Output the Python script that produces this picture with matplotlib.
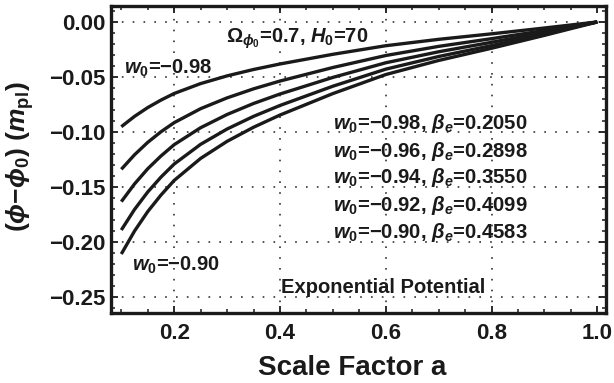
import matplotlib
matplotlib.use("Agg")
import matplotlib.pyplot as plt
from matplotlib.ticker import MultipleLocator, FixedLocator, FixedFormatter

plt.rcParams['font.family'] = ['Liberation Sans', 'DejaVu Sans']
plt.rcParams['font.weight'] = 'bold'
plt.rcParams['mathtext.fontset'] = 'custom'
plt.rcParams['mathtext.rm'] = 'Liberation Sans:bold'
plt.rcParams['mathtext.bf'] = 'Liberation Sans:bold'
plt.rcParams['mathtext.it'] = 'Liberation Sans:italic:bold'
plt.rcParams['mathtext.sf'] = 'Liberation Sans:bold'

# ---- data ----
scale_factor = [0.10, 0.125, 0.15, 0.175, 0.20, 0.25, 0.30, 0.35, 0.40,
                0.50, 0.60, 0.70, 0.80, 0.90, 1.00]
phi_w098 = [-0.0952, -0.0858, -0.0778, -0.0710, -0.0650, -0.0560, -0.0490, -0.0432,
            -0.0382, -0.0294, -0.0216, -0.0158, -0.0108, -0.0055, 0.0]
phi_w096 = [-0.1339, -0.1207, -0.1094, -0.0998, -0.0915, -0.0788, -0.0690, -0.0608,
            -0.0537, -0.0414, -0.0305, -0.0222, -0.0152, -0.0078, 0.0]
phi_w094 = [-0.1633, -0.1472, -0.1334, -0.1218, -0.1115, -0.0961, -0.0841, -0.0741,
            -0.0655, -0.0504, -0.0371, -0.0271, -0.0185, -0.0095, 0.0]
phi_w092 = [-0.1891, -0.1704, -0.1545, -0.1410, -0.1291, -0.1112, -0.0973, -0.0858,
            -0.0759, -0.0584, -0.0429, -0.0314, -0.0215, -0.0109, 0.0]
phi_w090 = [-0.2109, -0.1900, -0.1723, -0.1573, -0.1440, -0.1240, -0.1085, -0.0957,
            -0.0846, -0.0651, -0.0478, -0.0350, -0.0239, -0.0122, 0.0]
series = [phi_w098, phi_w096, phi_w094, phi_w092, phi_w090]

w0_values = ["\u22120.98", "\u22120.96", "\u22120.94", "\u22120.92", "\u22120.90"]
beta_values = ["0.2050", "0.2898", "0.3550", "0.4099", "0.4583"]

xticks = [0.2, 0.4, 0.6, 0.8, 1.0]
xtick_labels = ["0.2", "0.4", "0.6", "0.8", "1.0"]
yticks = [0.00, -0.05, -0.10, -0.15, -0.20, -0.25]
ytick_labels = ["0.00", "\u22120.05", "\u22120.10", "\u22120.15", "\u22120.20", "\u22120.25"]

# ---- figure ----
fig = plt.figure(figsize=(6.14, 3.83), dpi=100)
ax = fig.add_axes([111/614, 1-313/383, (606-111)/614, (313-6)/383])

for s in series:
    ax.plot(scale_factor, s, color='#1a1a1a', lw=2.4, solid_capstyle='butt')

ax.set_xlim(0.0805, 1.0165)
ax.set_ylim(-0.2645, 0.0145)

ax.xaxis.set_major_locator(FixedLocator(xticks))
ax.xaxis.set_major_formatter(FixedFormatter(xtick_labels))
ax.yaxis.set_major_locator(FixedLocator(yticks))
ax.yaxis.set_major_formatter(FixedFormatter(ytick_labels))
ax.xaxis.set_minor_locator(MultipleLocator(0.05))
ax.yaxis.set_minor_locator(MultipleLocator(0.01))

ax.tick_params(which='both', direction='in', top=True, right=True, color='#1a1a1a')
ax.tick_params(which='major', length=5, width=1.3, labelsize=16)
ax.tick_params(which='minor', length=2.8, width=1.1)
ax.tick_params(axis='x', which='major', pad=7)
ax.tick_params(axis='y', which='major', pad=4)
for lab in ax.get_xticklabels() + ax.get_yticklabels():
    lab.set_fontweight('bold')
    lab.set_color('#1a1a1a')

for sp in ax.spines.values():
    sp.set_linewidth(2.4)
    sp.set_color('#1a1a1a')

ax.grid(True, which='major', linestyle=(0, (1, 5.5)), color='#333333', lw=1.2)
ax.get_xgridlines()[-1].set_visible(False)

# ---- annotations ----
txt_kw = dict(color='#1a1a1a', fontweight='bold')
ax.text(0.433, -0.0155, r"$\Omega_{\phi_0}$=0.7, $H_0$=70", ha='center', va='center',
        fontsize=14.5, **txt_kw)
ax.text(0.189, -0.042, r"$w_0$=" + w0_values[0], ha='center', va='center',
        fontsize=14.5, **txt_kw)
ax.text(0.204, -0.221, r"$w_0$=" + w0_values[-1], ha='center', va='center',
        fontsize=14.5, **txt_kw)
block_y = [-0.0927, -0.1173, -0.1418, -0.1664, -0.1909]
for w, b, yy in zip(w0_values, beta_values, block_y):
    ax.text(0.684, yy, r"$w_0$=" + w + r", $\beta_e$=" + b, ha='center', va='center',
            fontsize=14.6, **txt_kw)
ax.text(0.5957, -0.241, "Exponential Potential", ha='center', va='center',
        fontsize=14.5, **txt_kw)

fig.text(352/614, 1-368/383, "Scale Factor a", ha='center', va='center',
         fontsize=20, **txt_kw)
fig.text(20/614, 1-157/383, r"$\mathrm{(}\phi\mathrm{-}\phi_0\mathrm{)\ (}m_{\mathrm{pl}}\mathrm{)}$",
         ha='center', va='center', rotation=90, fontsize=19, **txt_kw)

fig.savefig("out.png", dpi=100)
